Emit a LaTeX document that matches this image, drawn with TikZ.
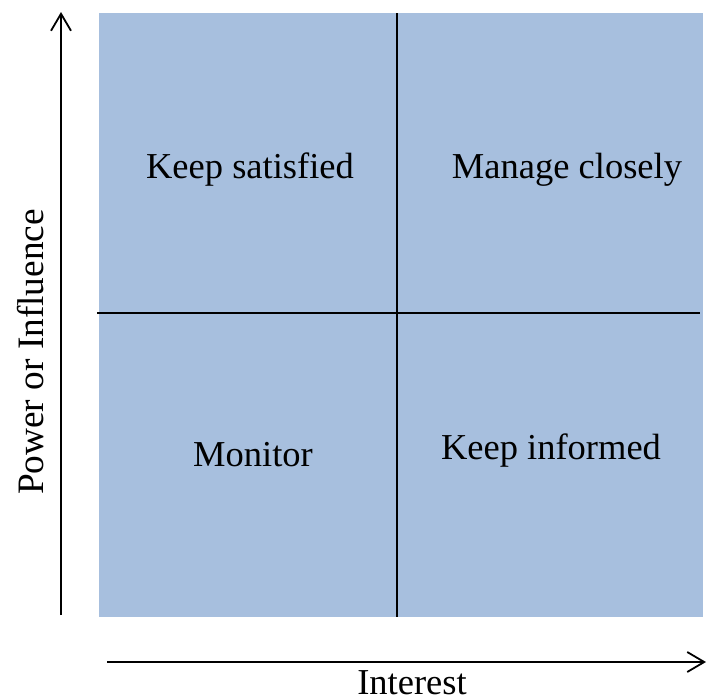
\documentclass[tikz,border=0pt]{standalone}
\usepackage{fontspec}
\setmainfont{Liberation Serif}
\usetikzlibrary{arrows.meta}
\definecolor{quad}{HTML}{A7BFDE}
\tikzset{
  axis/.style={line width=1.8pt, -{Straight Barb[length=17pt,width=20pt,line width=1.8pt]}},
  divider/.style={line width=2pt, black},
  lbl/.style={font=\fontsize{36.5}{40}\selectfont, inner sep=0pt, anchor=base},
}
\begin{document}
\begin{tikzpicture}[x=1pt,y=-1pt]
\useasboundingbox (0,0) rectangle (707,699);
\fill[quad] (99,13) rectangle (703,617);
\coordinate (vt) at (397,13);
\coordinate (vb) at (397,617);
\coordinate (hl) at (97,313);
\coordinate (hr) at (700,313);
\draw[divider] (vt) -- (vb);
\draw[divider] (hl) -- (hr);
\coordinate (ya) at (61,615);
\coordinate (yb) at (61,12);
\draw[axis] (ya) -- (yb);
\coordinate (xa) at (107,662);
\coordinate (xb) at (706,662);
\draw[axis] (xa) -- (xb);
\node[lbl] (ks) at (250,178) {Keep satisfied};
\node[lbl] (mc) at (567,178) {Manage closely};
\node[lbl] (mo) at (253,466) {Monitor};
\node[lbl] (ki) at (551,459) {Keep informed};
\node[lbl, text depth=0pt] (xi) at (412,694) {Interest};
\node[lbl, font=\fontsize{37.3}{40}\selectfont, rotate=90] (yi) at (43,352) {Power or Influence};
\end{tikzpicture}
\end{document}
